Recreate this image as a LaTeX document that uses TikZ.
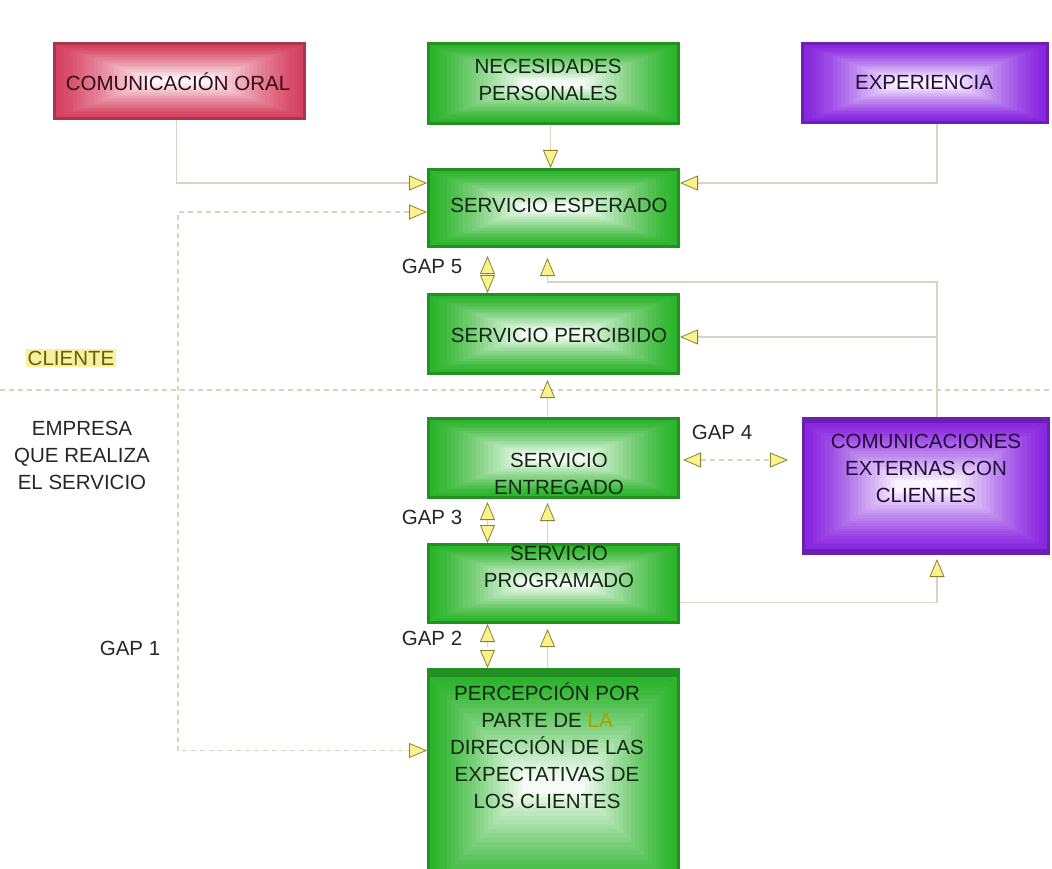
\documentclass[tikz,border=0pt]{standalone}
\usepackage{fontspec}
\setmainfont{Liberation Sans}
\usetikzlibrary{arrows.meta,calc}
\definecolor{grn}{RGB}{44,180,44}
\definecolor{redb}{RGB}{214,66,98}
\definecolor{pur}{RGB}{136,38,224}
\definecolor{lc}{RGB}{214,212,196}
\definecolor{tipf}{RGB}{250,243,140}
\definecolor{tipd}{RGB}{140,130,50}
\definecolor{tg}{RGB}{18,40,18}
\definecolor{tp}{RGB}{36,10,60}
\definecolor{tr}{RGB}{56,10,22}
\definecolor{hl}{RGB}{246,240,160}
\definecolor{olv}{RGB}{175,160,0}
\tikzset{
  ytip/.tip={Triangle[length=18pt,width=15pt,fill=tipf,color=tipd,line width=0.8pt]},
  conn/.style={draw=lc,line width=1.3pt},
  dconn/.style={conn,dash pattern=on 5pt off 4pt},
  boxn/.style={inner sep=0pt,outer sep=0pt,draw=none,rectangle},
  txt/.style={font=\fontsize{20.5}{27}\selectfont,align=center,inner sep=0pt},
}
\newcommand\gradrect[5]{%
  \fill[#5!80!black] (#1,#2) rectangle (#3,#4);
  \foreach \k in {0,...,22}{%
    \pgfmathsetmacro\fx{0.012+\k*0.0165}%
    \pgfmathsetmacro\fy{0.04+\k*0.019}%
    \pgfmathtruncatemacro\cc{95*(\k/22)^1.2}%
    \pgfmathsetmacro\ax{#1+(#3-#1)*\fx}%
    \pgfmathsetmacro\bx{#3-(#3-#1)*\fx}%
    \pgfmathsetmacro\ay{#2+(#4-#2)*\fy}%
    \pgfmathsetmacro\by{#4-(#4-#2)*\fy}%
    \fill[white!\cc!#5] (\ax,\ay) rectangle (\bx,\by);
  }%
}
\newcommand\mkbox[6]{%
  \gradrect{#1}{#2}{#3}{#4}{#5}%
  \node[boxn,minimum width={(#3-#1)*1pt},minimum height={(#4-#2)*1pt}] (#6) at ({(#1+#3)/2},{(#2+#4)/2}) {};
}
\begin{document}
\begin{tikzpicture}[x=1pt,y=-1pt]
\useasboundingbox (0,0) rectangle (1052,869);
\clip (0,0) rectangle (1052,869);
\fill[white] (0,0) rectangle (1052,869);

% boxes
\mkbox{53}{42}{306}{120}{redb}{oral}
\mkbox{427}{42}{680}{125}{grn}{nec}
\mkbox{801}{42}{1049}{124}{pur}{exp}
\mkbox{427}{168}{680}{248}{grn}{esp}
\mkbox{427}{293}{680}{375}{grn}{pcb}
\mkbox{427}{417}{680}{499}{grn}{ent}
\mkbox{427}{543}{680}{624}{grn}{prg}
\gradrect{427}{668}{680}{900}{grn}
\node[boxn,minimum width=253pt,minimum height=201pt] (prc) at (553.5,768.5) {};
\mkbox{802}{417}{1050}{555}{pur}{com}

% helper coordinates
\coordinate (g1) at (178,480);
\coordinate (sepl) at (0,390);
\coordinate (sepr) at (1052,390);
\coordinate (g4) at ([yshift=-2pt]ent.east);

% separator
\draw[dconn] (sepl) -- (sepr);

% connectors
\draw[conn,-ytip] ([xshift=-3pt]oral.south) |- ([yshift=25pt]esp.west);
\draw[dconn,ytip-ytip] ([yshift=-4pt]esp.west) -| (g1) |- ([yshift=18pt]prc.west);
\draw[conn,-ytip] ([xshift=-3pt]nec.south) -- ([xshift=-3pt]esp.north);
\draw[conn,-ytip] ([xshift=12pt]exp.south) |- ([yshift=25pt]esp.east);
\draw[conn,-ytip,shorten >=10pt] ([xshift=11pt]com.north) |- ([xshift=-6pt,yshift=-34pt]esp.south) -- ([xshift=-6pt]esp.south);
\draw[conn,-ytip] ([xshift=11pt]com.north) |- ([yshift=-3pt]pcb.east);
\draw[dconn,ytip-ytip,shorten <=8pt] ([xshift=-66pt]esp.south) -- ([xshift=-66pt]pcb.north);
\draw[conn,-ytip,shorten >=5pt] ([xshift=-6pt]ent.north) -- ([xshift=-6pt]pcb.south);
\draw[dconn,ytip-ytip,shorten <=3pt,shorten >=14pt] (g4) -- (g4 -| com.west);
\draw[dconn,ytip-ytip,shorten <=3pt] ([xshift=-66pt]ent.south) -- ([xshift=-66pt]prg.north);
\draw[conn,-ytip,shorten >=4pt] ([xshift=-6pt]prg.north) -- ([xshift=-6pt]ent.south);
\draw[conn,-ytip,shorten >=4pt] ([yshift=-19pt]prg.east) -| ([xshift=11pt]com.south);
\draw[dconn,ytip-ytip] ([xshift=-66pt]prg.south) -- ([xshift=-66pt]prc.north);
\draw[conn,-ytip,shorten >=5pt] ([xshift=-6pt]prc.north) -- ([xshift=-6pt]prg.south);

% box texts
\node[txt,text=tr] (toral) at (178,82) {COMUNICACIÓN ORAL};
\node[txt,text=tg] (tnec) at (548,80) {NECESIDADES\\PERSONALES};
\node[txt,text=tp] (texp) at (924,82) {EXPERIENCIA};
\node[txt,text=tg] (tesp) at (559,205) {SERVICIO ESPERADO};
\node[txt,text=tg] (tpcb) at (559,335) {SERVICIO PERCIBIDO};
\node[txt,text=tg] (tent) at (559,474) {SERVICIO\\ENTREGADO};
\node[txt,text=tg] (tprg) at (559,567) {SERVICIO\\PROGRAMADO};
\node[txt,text=tp] (tcom) at (926,468) {COMUNICACIONES\\EXTERNAS CON\\CLIENTES};
\node[txt,text=tg] (tprc) at (547,746) {PERCEPCIÓN POR\\PARTE DE {\color{olv}LA}\\DIRECCIÓN DE LAS\\EXPECTATIVAS DE\\LOS CLIENTES};

% side labels
\node[txt,text=olv!60!black,fill=hl,inner sep=2pt] (tcli) at (71,358) {CLIENTE};
\node[txt,text=black!85] (temp) at (82,455) {EMPRESA\\QUE REALIZA\\EL SERVICIO};
\node[txt,text=black!85] (gap1) at (130,648) {GAP 1};
\node[txt,text=black!85] (gap5) at (432,266) {GAP 5};
\node[txt,text=black!85] (gap3) at (432,517) {GAP 3};
\node[txt,text=black!85] (gap2) at (432,638) {GAP 2};
\node[txt,text=black!85] (gap4) at (722,432) {GAP 4};
\end{tikzpicture}
\end{document}
